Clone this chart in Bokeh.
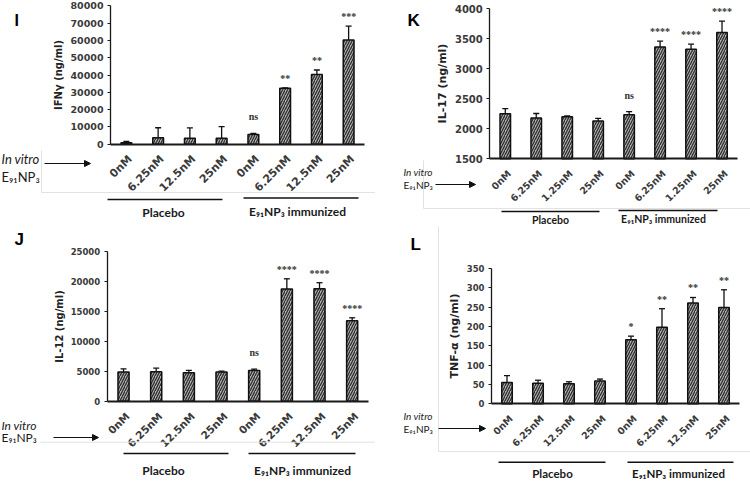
import math
from bokeh.plotting import figure
from bokeh.layouts import column, row
from bokeh.models import (ColumnDataSource, Range1d, FixedTicker, NumeralTickFormatter,
                          Whisker, TeeHead, Label, LabelSet, Arrow, NormalHead)
from bokeh.embed import file_html
from bokeh.resources import INLINE

# ---------------- data ----------------
doses_std = ["0nM", "6.25nM", "12.5nM", "25nM", "0nM", "6.25nM", "12.5nM", "25nM"]
doses_k = ["0nM", "6.25nM", "1.25nM", "25nM", "0nM", "6.25nM", "1.25nM", "25nM"]
group_names = ["Placebo", "E\u2089\u2081NP\u2083 immunized"]
invitro_lines = ["In vitro", "E\u2089\u2081NP\u2083"]

ifng_mean = [800, 3700, 3500, 3500, 5600, 32400, 40300, 60300]
ifng_err = [750, 5800, 5900, 6700, 600, 0, 2600, 8000]
ifng_sig = ["", "", "", "", "ns", "**", "**", "***"]
ifng_ticks = [0, 10000, 20000, 30000, 40000, 50000, 60000, 70000, 80000]

il17_mean = [2250, 2180, 2200, 2130, 2235, 3365, 3325, 3605]
il17_err = [85, 75, 15, 45, 50, 95, 85, 190]
il17_sig = ["", "", "", "", "ns", "****", "****", "****"]
il17_ticks = [1500, 2000, 2500, 3000, 3500, 4000]

il12_mean = [4850, 4900, 4750, 4850, 5100, 18700, 18750, 13400]
il12_err = [550, 600, 400, 150, 250, 1700, 1000, 500]
il12_sig = ["", "", "", "", "ns", "****", "****", "****"]
il12_ticks = [0, 5000, 10000, 15000, 20000, 25000]

tnf_mean = [55, 53, 52, 59, 166, 198, 261, 249]
tnf_err = [18, 8, 5, 5, 9, 48, 14, 46]
tnf_sig = ["", "", "", "", "*", "**", "**", "**"]
tnf_ticks = [0, 50, 100, 150, 200, 250, 300, 350]

CHART_FONT = "DejaVu Sans"
OVER_FONT = "Lato"
LETTER_FONT = "Liberation Sans"
LABEL_SHIFT = 0.125   # rotated category labels sit slightly right of the bar centre


def make_panel(letter, ylabel, means, errs, sigs, doses, ticks, geo, deco):
    W, H = geo["W"], geo["H"]
    al, ar, at, ab = geo["axes"]          # axis box in figure pixels
    y0, y1 = ticks[0], ticks[-1]
    n = len(means)
    pxx = (ar - al) / n                    # px per category
    pxy = (ab - at) / (y1 - y0)            # px per value unit
    xs0 = 0.5 - al / pxx
    ys0 = y0 - (H - ab) / pxy
    p = figure(width=W, height=H, output_backend="svg", toolbar_location=None,
               x_range=Range1d(xs0, xs0 + W / pxx), y_range=Range1d(ys0, ys0 + H / pxy),
               min_border=0, min_border_left=0, min_border_right=0,
               min_border_top=0, min_border_bottom=0)
    p.outline_line_color = None
    p.xgrid.visible = False
    p.ygrid.visible = False
    p.background_fill_color = "white"
    p.border_fill_color = "white"

    xs = list(range(1, n + 1))
    upper = [m + e for m, e in zip(means, errs)]
    lower = [max(y0, m - e) for m, e in zip(means, errs)]
    offs = [11 if s == "ns" else 4 for s in sigs]
    src = ColumnDataSource(dict(x=xs, top=means, upper=upper, lower=lower, sig=sigs, off=offs))

    p.vbar(x="x", top="top", bottom=y0, width=0.34, source=src,
           fill_color="#b3b3b3", hatch_pattern="/", hatch_color="#2e2e2e",
           hatch_scale=5, hatch_weight=1.3, line_color="#111111", line_width=1.5)

    p.add_layout(Whisker(source=src, base="x", upper="upper", lower="lower",
                         line_color="#111111", line_width=1.3,
                         upper_head=TeeHead(size=6, line_color="#111111", line_width=1.3),
                         lower_head=TeeHead(size=6, line_color="#111111", line_width=1.3)))

    p.add_layout(LabelSet(x="x", y="upper", text="sig", source=src, y_offset="off",
                          text_align="center", text_baseline="bottom",
                          text_font=CHART_FONT, text_font_size="10px",
                          text_font_style="bold", text_color="#333333"))

    # axes, drawn by Bokeh at fixed data locations
    tick_pos = [x + LABEL_SHIFT for x in xs]
    p.xaxis.fixed_location = y0
    p.xaxis.bounds = (0.5, n + 0.5)
    p.xaxis.ticker = FixedTicker(ticks=tick_pos)
    p.xaxis.major_label_overrides = {t: d for t, d in zip(tick_pos, doses)}
    p.xaxis.major_label_orientation = math.pi / 4
    p.xaxis.major_tick_line_color = None
    p.xaxis.minor_tick_line_color = None
    p.xaxis.axis_line_color = "#1a1a1a"
    p.xaxis.axis_line_width = 1.8
    p.xaxis.major_label_text_font = CHART_FONT
    p.xaxis.major_label_text_font_style = "bold"
    p.xaxis.major_label_text_font_size = geo["xfs"]
    p.xaxis.major_label_text_color = "#3a3a3a"
    p.xaxis.major_label_standoff = 7

    p.yaxis.fixed_location = 0.5
    p.yaxis.bounds = (y0, y1)
    p.yaxis.ticker = FixedTicker(ticks=ticks)
    p.yaxis.formatter = NumeralTickFormatter(format="0")
    p.yaxis.minor_tick_line_color = None
    p.yaxis.major_tick_out = 3
    p.yaxis.major_tick_in = 0
    p.yaxis.major_tick_line_color = "#1a1a1a"
    p.yaxis.axis_line_color = "#1a1a1a"
    p.yaxis.axis_line_width = 1.3
    p.yaxis.major_label_text_font = CHART_FONT
    p.yaxis.major_label_text_font_style = "bold"
    p.yaxis.major_label_text_font_size = geo["yfs"]
    p.yaxis.major_label_text_color = "#3a3a3a"
    p.yaxis.major_label_standoff = 4
    p.yaxis.axis_label = ylabel
    p.yaxis.axis_label_text_font = CHART_FONT
    p.yaxis.axis_label_text_font_style = "bold"
    p.yaxis.axis_label_text_font_size = geo["lfs"]
    p.yaxis.axis_label_text_color = "#222222"
    p.yaxis.axis_label_standoff = 3

    def text(lx, ly, t, size, font=OVER_FONT, style="normal", align="left",
             baseline="middle", color="#1a1a1a"):
        p.add_layout(Label(x=lx, y=H - ly, x_units="screen", y_units="screen",
                           text=t, text_font=font, text_font_size=f"{size}px",
                           text_font_style=style, text_align=align,
                           text_baseline=baseline, text_color=color))

    def line(x0, yy0, x1, yy1, width=1.5, color="#111111", head=None):
        p.add_layout(Arrow(x_start=x0, y_start=H - yy0, x_end=x1, y_end=H - yy1,
                           start_units="screen", end_units="screen",
                           line_width=width, line_color=color, start=None, end=head))

    # faint chart-area border
    for seg in deco.get("border", []):
        line(*seg, width=1, color="#e2e2e2")

    # panel letter
    lx, ly, lsize = deco["letter"]
    text(lx, ly, letter, lsize, font=LETTER_FONT, style="bold", baseline="alphabetic",
         color="#000000")

    # in vitro + arrow
    ix, iy1, iy2, isz = deco["invitro"]
    text(ix, iy1, invitro_lines[0], isz, style="italic")
    text(ix, iy2, invitro_lines[1], isz)
    ax0, ax1, ay = deco["arrow"]
    line(ax0, ay, ax1, ay, width=1.2,
         head=NormalHead(size=6, fill_color="#111111", line_color="#111111"))

    # group lines and labels
    for (gx0, gx1, gy), (tx, ty), name in zip(deco["glines"], deco["gtext"], group_names):
        line(gx0, gy, gx1, gy, width=1.5)
        text(tx, ty, name, deco["gsize"], style="bold", align="center")
    return p


TOP_H, BOT_H, COL_W = 226, 255, 375

geo_I = dict(W=COL_W, H=TOP_H, axes=(110, 364, 5.3, 143.7), xfs="11px", yfs="9.5px", lfs="10px")
deco_I = dict(letter=(14, 20, 16), invitro=(1, 158, 176, 13), arrow=(44, 90, 163),
              glines=[(107, 222, 199), (243, 358, 197.5)], gtext=[(163, 212), (297, 211)],
              gsize=12, border=[(41, 150, 41, 192), (41, 192, 375, 192)])

geo_K = dict(W=COL_W, H=TOP_H, axes=(114.3, 362, 8.3, 158.3), xfs="9.5px", yfs="10px", lfs="11px")
deco_K = dict(letter=(32, 20, 17), invitro=(28, 171, 184, 10), arrow=(60, 100, 184),
              glines=[(126, 224, 211), (243, 342, 210)], gtext=[(175, 219), (288, 218.5)],
              gsize=10.5, border=[(48, 160, 48, 208), (48, 208, 375, 208)])

geo_J = dict(W=COL_W, H=BOT_H, axes=(106.7, 368, 24.7, 174.7), xfs="10.5px", yfs="8.5px", lfs="10px")
deco_J = dict(letter=(14, 12.5, 17), invitro=(1, 199, 211, 12), arrow=(53, 98, 211),
              glines=[(123, 228, 227), (248, 355, 227)], gtext=[(163, 244), (302, 244)],
              gsize=12, border=[(40, 215.7, 375, 215.7)])

geo_L = dict(W=COL_W, H=BOT_H, axes=(116, 364, 42, 177.3), xfs="9.5px", yfs="8.5px", lfs="11px")
deco_L = dict(letter=(35, 18, 17), invitro=(28, 189, 202, 10), arrow=(63, 110, 202),
              glines=[(123, 230, 235.7), (252, 358, 235.7)], gtext=[(177, 247), (303, 247)],
              gsize=11.5, border=[(63, 0, 63, 225), (63, 225, 375, 225)])

pI = make_panel("I", "IFN\u03b3 (ng/ml)", ifng_mean, ifng_err, ifng_sig, doses_std, ifng_ticks, geo_I, deco_I)
pK = make_panel("K", "IL-17 (ng/ml)", il17_mean, il17_err, il17_sig, doses_k, il17_ticks, geo_K, deco_K)
pJ = make_panel("J", "IL-12 (ng/ml)", il12_mean, il12_err, il12_sig, doses_std, il12_ticks, geo_J, deco_J)
pL = make_panel("L", "TNF-\u03b1 (ng/ml)", tnf_mean, tnf_err, tnf_sig, doses_std, tnf_ticks, geo_L, deco_L)

layout = column(row(pI, pK), row(pJ, pL))
open("out.html", "w").write(file_html(layout, INLINE))
